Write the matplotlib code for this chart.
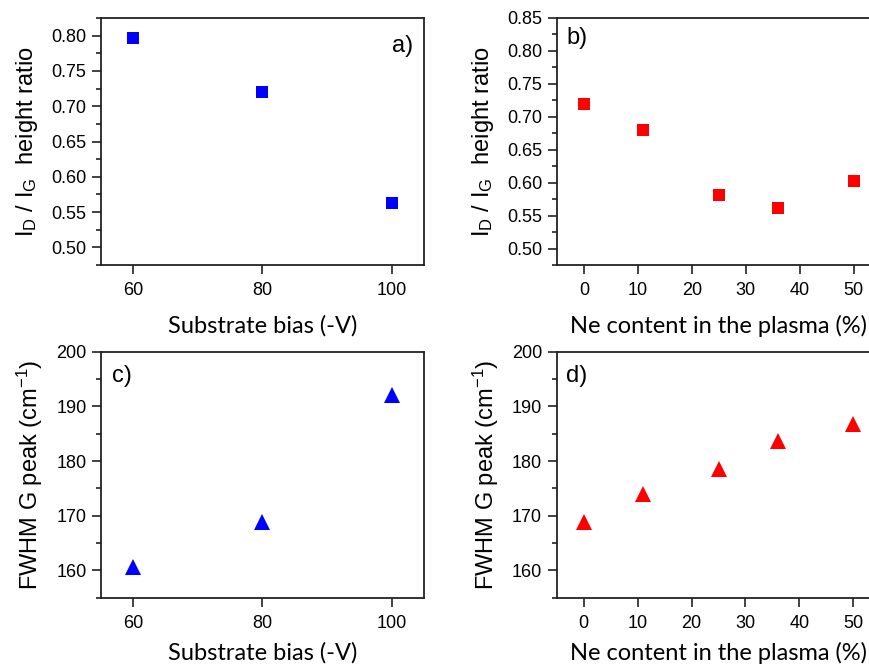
import matplotlib
matplotlib.use("Agg")
import matplotlib.pyplot as plt
from matplotlib.ticker import MultipleLocator

plt.rcParams['font.family'] = ['Liberation Sans', 'DejaVu Sans']
plt.rcParams['mathtext.fontset'] = 'custom'
plt.rcParams['mathtext.rm'] = 'Liberation Sans'
plt.rcParams['mathtext.it'] = 'Liberation Sans:italic'

# Data
bias = [60, 80, 100]
ratio_bias = [0.796, 0.720, 0.563]
fwhm_bias = [160.6, 168.8, 192.0]

ne = [0, 11, 25, 36, 50]
ratio_ne = [0.719, 0.680, 0.582, 0.561, 0.603]
fwhm_ne = [168.8, 174.0, 178.5, 183.6, 186.8]

W, H = 869, 668
fig = plt.figure(figsize=(W / 100, H / 100), dpi=100)

def frac(l, t, w, h):
    return [l / W, 1 - (t + h) / H, w / W, h / H]

axa = fig.add_axes(frac(101, 18, 323, 247))
axb = fig.add_axes(frac(557, 18, 323.6, 247))
axc = fig.add_axes(frac(101, 351.7, 323, 246))
axd = fig.add_axes(frac(556.7, 351.7, 323.6, 246))

axcol = '#222222'
xfont = dict(family=['Lato', 'DejaVu Sans'], fontsize=17)
ylab_ratio = r'$\mathregular{I_D\ /\ I_G}$  height ratio'
ylab_fwhm = r'FWHM G peak (cm$\mathregular{^{-1}}$)'

for ax in (axa, axb, axc, axd):
    for s in ax.spines.values():
        s.set_linewidth(1.3)
        s.set_color(axcol)
    ax.tick_params(which='major', direction='out', length=6.5, width=1.2,
                   labelsize=13, color=axcol, pad=4)
    ax.tick_params(axis='x', which='major', pad=6)
    ax.tick_params(which='minor', direction='out', length=3.6, width=1.2, color=axcol)
    ax.tick_params(axis='x', which='minor', bottom=False)

# a
axa.plot(bias, ratio_bias, 's', color='#0000FF', markersize=8.8, markeredgewidth=0)
axa.set_xlim(55, 105)
axa.set_ylim(0.475, 0.825)
axa.set_xticks(bias)
axa.yaxis.set_major_locator(MultipleLocator(0.05))
axa.yaxis.set_minor_locator(MultipleLocator(0.025))
axa.yaxis.set_major_formatter(plt.FormatStrFormatter('%.2f'))
axa.set_xlabel('Substrate bias (-V)', **xfont, labelpad=11)
axa.set_ylabel(ylab_ratio, fontsize=17, labelpad=8)
axa.text(0.965, 0.93, 'a)', transform=axa.transAxes, ha='right', va='top', fontsize=17)

# b
axb.plot(ne, ratio_ne, 's', color='#FF0000', markersize=8.8, markeredgewidth=0)
axb.set_xlim(-5, 55)
axb.set_ylim(0.475, 0.85)
axb.xaxis.set_major_locator(MultipleLocator(10))
axb.yaxis.set_major_locator(MultipleLocator(0.05))
axb.yaxis.set_minor_locator(MultipleLocator(0.025))
axb.yaxis.set_major_formatter(plt.FormatStrFormatter('%.2f'))
axb.set_xlabel('Ne content in the plasma (%)', **xfont, labelpad=11)
axb.set_ylabel(ylab_ratio, fontsize=17, labelpad=8)
axb.text(0.03, 0.965, 'b)', transform=axb.transAxes, ha='left', va='top', fontsize=17)

# c
axc.plot(bias, fwhm_bias, '^', color='#0000FF', markersize=11.5, markeredgewidth=0)
axc.set_xlim(55, 105)
axc.set_ylim(155, 200)
axc.set_xticks(bias)
axc.yaxis.set_major_locator(MultipleLocator(10))
axc.yaxis.set_minor_locator(MultipleLocator(5))
axc.set_xlabel('Substrate bias (-V)', **xfont, labelpad=7)
axc.set_ylabel(ylab_fwhm, fontsize=17, labelpad=8)
axc.text(0.033, 0.945, 'c)', transform=axc.transAxes, ha='left', va='top', fontsize=17)

# d
axd.plot(ne, fwhm_ne, '^', color='#FF0000', markersize=11.5, markeredgewidth=0)
axd.set_xlim(-5, 55)
axd.set_ylim(155, 200)
axd.xaxis.set_major_locator(MultipleLocator(10))
axd.yaxis.set_major_locator(MultipleLocator(10))
axd.yaxis.set_minor_locator(MultipleLocator(5))
axd.set_xlabel('Ne content in the plasma (%)', **xfont, labelpad=7)
axd.set_ylabel(ylab_fwhm, fontsize=17, labelpad=8)
axd.text(0.03, 0.945, 'd)', transform=axd.transAxes, ha='left', va='top', fontsize=17)

fig.savefig('out.png', dpi=100)
